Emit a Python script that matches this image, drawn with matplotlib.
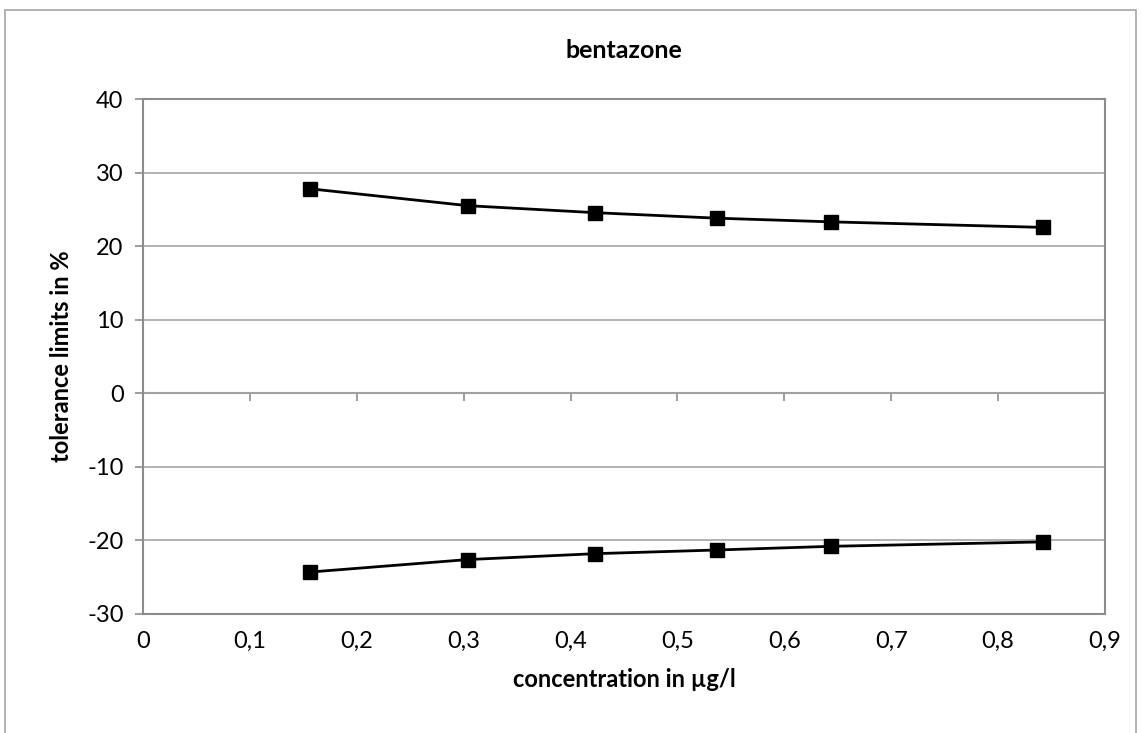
import matplotlib
matplotlib.use("Agg")
import matplotlib.pyplot as plt
from matplotlib.patches import Rectangle

# data
conc = [0.156, 0.304, 0.423, 0.537, 0.644, 0.842]
upper = [27.8, 25.5, 24.55, 23.8, 23.3, 22.55]
lower = [-24.3, -22.6, -21.8, -21.3, -20.8, -20.2]

x_ticks = [0, 0.1, 0.2, 0.3, 0.4, 0.5, 0.6, 0.7, 0.8, 0.9]
x_labels = ["0", "0,1", "0,2", "0,3", "0,4", "0,5", "0,6", "0,7", "0,8", "0,9"]
y_ticks = [-30, -20, -10, 0, 10, 20, 30, 40]

plt.rcParams['font.family'] = ['Lato', 'DejaVu Sans']
plt.rcParams['axes.unicode_minus'] = False
grey = '#8c8c8c'

fig = plt.figure(figsize=(11.41, 7.33), dpi=100)
W, H = 1141, 733
# plot area in pixels: left 143, right 1105, top 99, bottom 614
ax = fig.add_axes([143 / W, 1 - 614 / H, (1105 - 143) / W, (614 - 99) / H])

# outer chart border
fig.patches.append(Rectangle((5 / W, -0.01), (1136 - 5) / W, 1 - 10 / H + 0.01,
                             transform=fig.transFigure, fill=False,
                             edgecolor='#a6a6a6', lw=1.2))

ax.set_xlim(0, 0.9)
ax.set_ylim(-30, 40)
ax.grid(axis='y', color='#a6a6a6', lw=1.2)
ax.set_axisbelow(True)

for s in ax.spines.values():
    s.set_color(grey)
    s.set_linewidth(1.5)

ax.plot(conc, upper, color='black', lw=2, marker='s', ms=10)
ax.plot(conc, lower, color='black', lw=2, marker='s', ms=10)

ax.set_xticks(x_ticks)
ax.set_xticklabels(x_labels)
ax.set_yticks(y_ticks)
ax.tick_params(axis='x', length=0, labelsize=17, pad=12)
ax.tick_params(axis='y', length=6, color=grey, width=1.2, labelsize=17, pad=8)

# horizontal axis line at zero with tick marks below it
zero = ax.secondary_xaxis(30 / 70)
zero.set_xticks(x_ticks)
zero.tick_params(axis='x', direction='out', length=6, color=grey, width=1.2,
                 labelbottom=False, labeltop=False, top=False, bottom=True)
zero.spines['bottom'].set_color(grey)
zero.spines['bottom'].set_linewidth(1.5)
zero.spines['top'].set_visible(False)

ax.set_xlabel("concentration in µg/l", fontsize=17, fontweight='bold', labelpad=12)
ax.set_ylabel("tolerance limits in %", fontsize=17, fontweight='bold', labelpad=10)
fig.text(624 / W, 1 - 50 / H, "bentazone", fontsize=18, fontweight='bold',
         ha='center', va='center')

fig.savefig("out.png", dpi=100)
